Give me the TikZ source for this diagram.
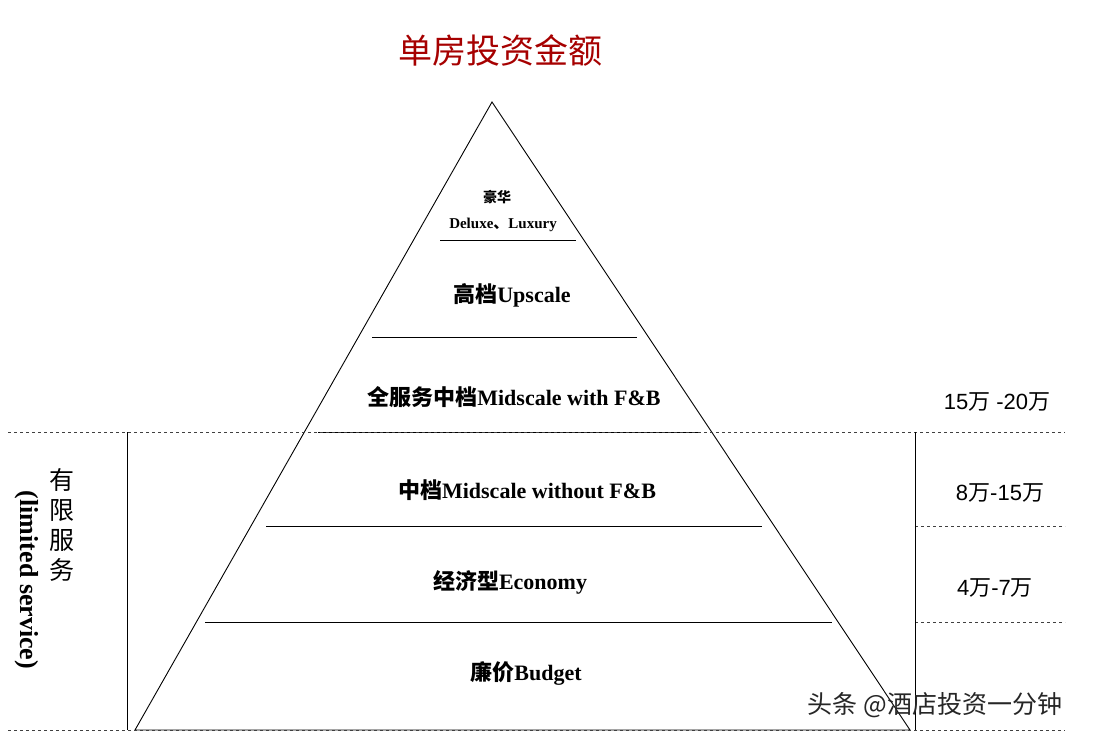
\documentclass[tikz,border=0pt]{standalone}
\usepackage{fontspec}
\setmainfont{Liberation Serif}
\setsansfont{Liberation Sans}
\newfontfamily\cjk{Noto Sans CJK SC}
\begin{document}
\begin{tikzpicture}[x=1pt,y=-1pt,
  lvl/.style={font=\bfseries\fontsize{22}{22}\selectfont},
  price/.style={font=\sffamily\fontsize{22}{22}\selectfont},
  dsh/.style={dashed,black!75,line width=1pt},
  ln/.style={line width=0.9pt}]
\useasboundingbox (0,0) rectangle (1112,740);
\node[font=\cjk\fontsize{34}{34}\selectfont,text=red!65!black] (title) at (500,50) {单房投资金额};
\coordinate (A) at (492,102);
\coordinate (L) at (135,730);
\coordinate (R) at (910,730);
\draw[ln] (A) -- (L) -- (R) -- cycle;
\draw[ln] (440,240) coordinate (h1a) -- (576,240) coordinate (h1b);
\draw[ln] (372,337) coordinate (h2a) -- (637,337) coordinate (h2b);
\draw[ln] (318,432) coordinate (h3a) -- (700,432) coordinate (h3b);
\draw[ln] (266,526) coordinate (h4a) -- (762,526) coordinate (h4b);
\draw[ln] (205,622) coordinate (h5a) -- (832,622) coordinate (h5b);
\coordinate (d1a) at (8,432); \coordinate (d1b) at (1065,432);
\coordinate (d4a) at (8,730); \coordinate (d4b) at (1065,730);
\coordinate (d2a) at (915,526); \coordinate (d2b) at (1065,526);
\coordinate (d3a) at (915,622); \coordinate (d3b) at (1065,622);
\draw[dsh] (d1a) -- (d1b);
\draw[dsh] (d4a) -- (d4b);
\draw[dsh] (d2a) -- (d2b);
\draw[dsh] (d3a) -- (d3b);
\coordinate (v1a) at (127,432); \coordinate (v1b) at (127,730);
\coordinate (v2a) at (915,432); \coordinate (v2b) at (915,730);
\draw[ln] (v1a) -- (v1b);
\draw[ln] (v2a) -- (v2b);
\node[font=\cjk\bfseries\fontsize{14}{14}\selectfont] (n0) at (497,197) {豪华};
\node[font=\bfseries\fontsize{15}{15}\selectfont] (n0b) at (503,225) {Deluxe{\cjk 、}Luxury};
\node[lvl] (n1) at (512,295) {{\cjk 高档}Upscale};
\node[lvl] (n2) at (514,397) {{\cjk 全服务中档}Midscale with F\&B};
\node[lvl] (n3) at (527,490) {{\cjk 中档}Midscale without F\&B};
\node[lvl] (n4) at (510,582) {{\cjk 经济型}Economy};
\node[lvl] (n5) at (526,673) {{\cjk 廉价}Budget};
\node[price] (p1) at (997,402) {15{\cjk 万} -20{\cjk 万}};
\node[price] (p2) at (1000,493) {8{\cjk 万}-15{\cjk 万}};
\node[price] (p3) at (995,588) {4{\cjk 万}-7{\cjk 万}};
\node[font=\cjk\fontsize{25}{30}\selectfont,align=center] (ls) at (62,525) {有\\限\\服\\务};
\node[font=\bfseries\fontsize{26}{26}\selectfont,rotate=-90] (le) at (27,580) {(limited service)};
\node[font=\cjk\fontsize{25}{25}\selectfont,text=black!85] (wm) at (935,705) {头条 @酒店投资一分钟};
\end{tikzpicture}
\end{document}
